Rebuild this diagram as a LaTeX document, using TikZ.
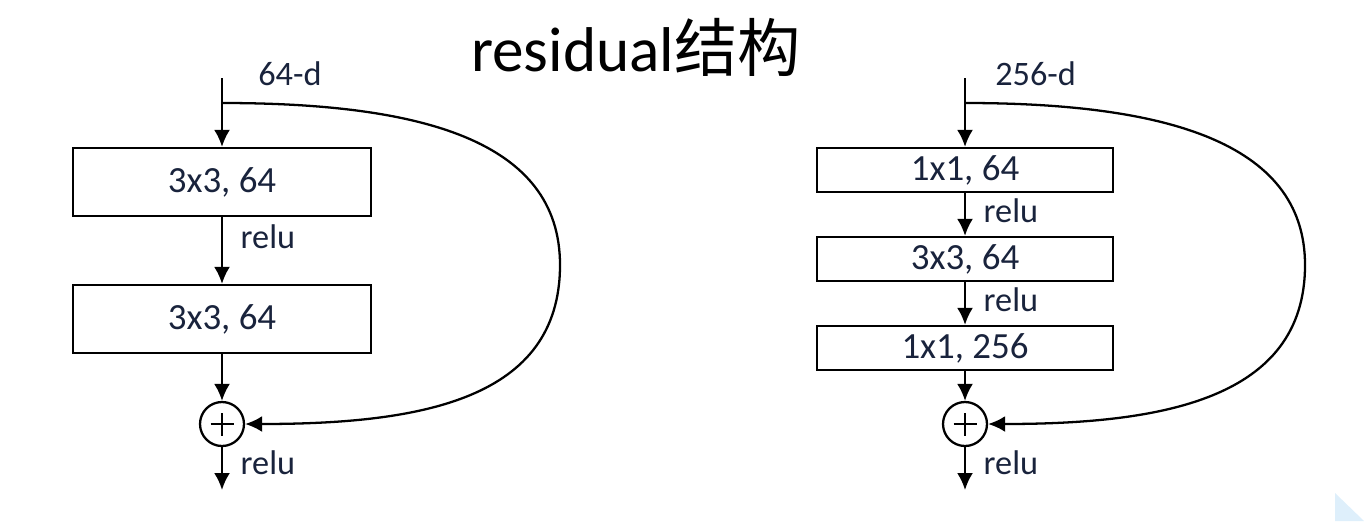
\documentclass[tikz,border=0pt]{standalone}
\usepackage{fontspec}
\setmainfont{Carlito}
\newfontfamily\cjkfont{Noto Sans CJK SC}
\usetikzlibrary{arrows.meta}

\definecolor{labelink}{RGB}{25,35,60}
\definecolor{slideblue}{RGB}{222,239,251}

\tikzset{
	layer/.style={draw, line width=1.3pt, minimum width=5.96cm, inner sep=0pt,
		text=labelink, font=\fontsize{21}{24}\selectfont},
	biglayer/.style={layer, minimum height=1.36cm},
	thinlayer/.style={layer, minimum width=5.92cm, minimum height=0.88cm},
	adder/.style={draw, circle, line width=1.3pt, minimum size=0.88cm, inner sep=0pt,
		path picture={
			\draw[line width=1.3pt] (path picture bounding box.center) ++(-0.23cm,0) -- ++(0.46cm,0);
			\draw[line width=1.3pt] (path picture bounding box.center) ++(0,-0.23cm) -- ++(0,0.46cm);
		}},
	lbl/.style={text=labelink, font=\fontsize{19.5}{22}\selectfont, inner sep=0pt},
	flow/.style={line width=1.3pt, -{Latex[length=0.34cm,width=0.32cm]}}
}

\begin{document}
\begin{tikzpicture}[x=0.02cm, y=-0.02cm]
		\useasboundingbox (0,0) rectangle (1364,521);
		\fill[slideblue] (1335,493) -- (1364,521) -- (1335,521) -- cycle;
		%
		\node[font=\fontsize{36}{40}\selectfont] (title) at (636,47) {residual{\cjkfont 结构}};
		%
		% plain block
		\coordinate (in1) at (222,78);
		\coordinate (split1) at (222,103);
		\node[biglayer] (conv1a) at (222,182) {3x3, 64};
		\node[biglayer] (conv1b) at (222,319) {3x3, 64};
		\node[adder] (sum1) at (222,424) {};
		\coordinate (out1) at (222,490);
		\node[lbl, anchor=west] (dim1) at (258,74) {64-d};
		%
		\path[flow]
			(in1) edge (conv1a)
			(conv1a) edge node[lbl, right=10pt, pos=0.3] {relu} (conv1b)
			(conv1b) edge (sum1)
			(sum1) edge node[lbl, right=10pt, pos=0.37] {relu} (out1);
		\draw[flow] (split1) .. controls (420,103) and (560,140) .. (560,265)
			.. controls (560,400) and (420,424) .. (sum1.east);
		%
		% bottleneck block
		\coordinate (in2) at (965,78);
		\coordinate (split2) at (965,103);
		\node[thinlayer] (conv2a) at (965,170) {1x1, 64};
		\node[thinlayer] (conv2b) at (965,259) {3x3, 64};
		\node[thinlayer] (conv2c) at (965,348) {1x1, 256};
		\node[adder] (sum2) at (965,424) {};
		\coordinate (out2) at (965,490);
		\node[lbl, anchor=west] (dim2) at (995,74) {256-d};
		%
		\path[flow]
			(in2) edge (conv2a)
			(conv2a) edge node[lbl, right=10pt, pos=0.4] {relu} (conv2b)
			(conv2b) edge node[lbl, right=10pt, pos=0.4] {relu} (conv2c)
			(conv2c) edge (sum2)
			(sum2) edge node[lbl, right=10pt, pos=0.37] {relu} (out2);
		\draw[flow] (split2) .. controls (1160,103) and (1305,140) .. (1305,265)
			.. controls (1305,400) and (1160,424) .. (sum2.east);
	\end{tikzpicture}
\end{document}
